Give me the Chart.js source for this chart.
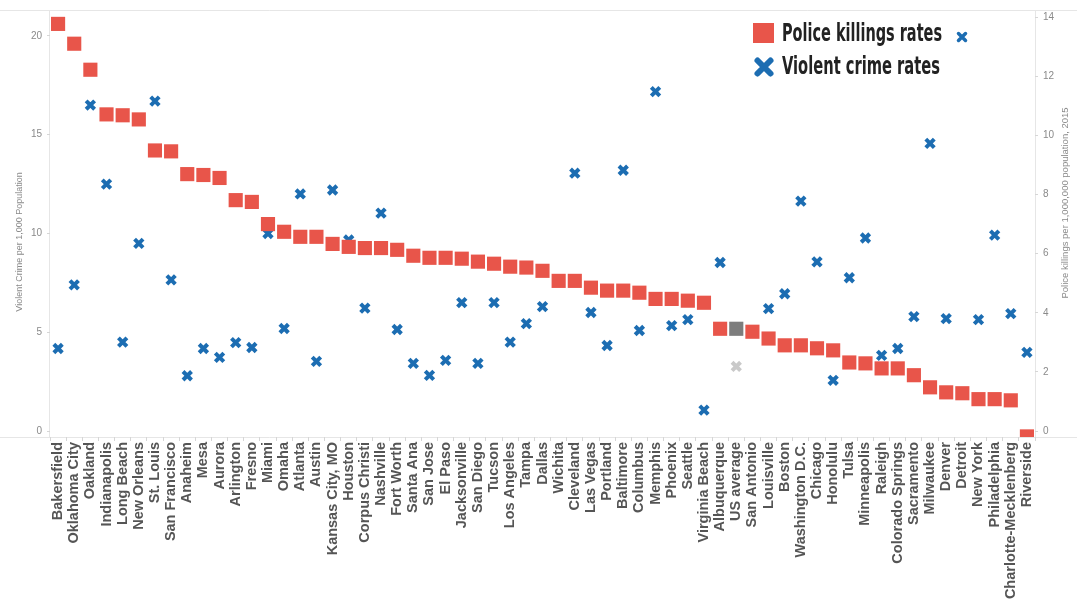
<!DOCTYPE html>
<html>
<head>
<meta charset="utf-8">
<script src="https://cdn.jsdelivr.net/npm/chart.js@4.4.1/dist/chart.umd.min.js"></script>
<style>
  html, body { margin: 0; padding: 0; background: #ffffff; }
  #wrap { width: 1077px; height: 603px; }
</style>
</head>
<body>
<div id="wrap"><canvas id="c" width="1077" height="603"></canvas></div>
<script>
const cities = ["Bakersfield","Oklahoma City","Oakland","Indianapolis","Long Beach","New Orleans","St. Louis","San Francisco","Anaheim","Mesa","Aurora","Arlington","Fresno","Miami","Omaha","Atlanta","Austin","Kansas City, MO","Houston","Corpus Christi","Nashville","Fort Worth","Santa Ana","San Jose","El Paso","Jacksonville","San Diego","Tucson","Los Angeles","Tampa","Dallas","Wichita","Cleveland","Las Vegas","Portland","Baltimore","Columbus","Memphis","Phoenix","Seattle","Virginia Beach","Albuquerque","US average","San Antonio","Louisville","Boston","Washington D.C.","Chicago","Honolulu","Tulsa","Minneapolis","Raleigh","Colorado Springs","Sacramento","Milwaukee","Denver","Detroit","New York","Philadelphia","Charlotte-Mecklenberg","Riverside"];

// Police killings per 1,000,000 population, 2015 (right axis)
const policeKillingRates = [13.77,13.1,12.22,10.71,10.68,10.54,9.49,9.46,8.69,8.66,
  8.56,7.81,7.75,7.0,6.74,6.57,6.57,6.33,6.23,6.19,
  6.19,6.13,5.93,5.86,5.86,5.83,5.73,5.66,5.56,5.53,
  5.42,5.08,5.08,4.85,4.75,4.75,4.68,4.47,4.47,4.41,
  4.34,3.46,3.46,3.36,3.13,2.9,2.9,2.8,2.73,2.32,
  2.29,2.12,2.12,1.89,1.48,1.31,1.28,1.08,1.08,1.04,-0.18];

// Violent crime per 1,000 population (left axis)
const violentCrimeRates = [4.18,7.4,16.5,12.5,4.5,9.5,16.7,7.65,2.8,4.18,
  3.73,4.48,4.23,10.0,5.19,12.0,3.53,12.2,9.67,6.22,
  11.03,5.14,3.43,2.82,3.58,6.5,3.43,6.5,4.5,5.44,
  6.3,null,13.05,6.0,4.33,13.2,5.09,17.18,5.34,5.64,
  1.06,8.53,3.27,null,6.2,6.95,11.64,8.56,2.57,7.76,
  9.77,3.83,4.18,5.79,14.56,5.69,null,5.64,9.92,5.94,3.98];

const leftTicks = [0, 5, 10, 15, 20];
const rightTicks = [0, 2, 4, 6, 8, 10, 12, 14];
const legendLabels = ["Police killings rates", "Violent crime rates"];
const leftTitle = "Violent Crime per 1,000 Population";
const rightTitle = "Police killings per 1,000,000 population, 2015";
const highlightCity = "US average";

const RED = '#e8554a', BLUE = '#1c6db2';
const redColors = cities.map(c => c === highlightCity ? '#7d7d7d' : RED);
const blueColors = cities.map(c => c === highlightCity ? '#c9c9c9' : BLUE);

const overlay = {
  id: 'overlay',
  beforeDraw(chart) {
    const ctx = chart.ctx, a = chart.chartArea;
    ctx.save();
    ctx.fillStyle = '#ffffff';
    ctx.fillRect(0, 0, chart.width, chart.height);
    ctx.strokeStyle = '#e6e6e6';
    ctx.lineWidth = 1;
    ctx.beginPath();
    ctx.moveTo(0, Math.round(a.top) + 0.5); ctx.lineTo(chart.width, Math.round(a.top) + 0.5);
    ctx.moveTo(Math.round(a.left) - 0.5, a.top); ctx.lineTo(Math.round(a.left) - 0.5, a.bottom);
    ctx.moveTo(Math.round(a.right) + 0.5, a.top); ctx.lineTo(Math.round(a.right) + 0.5, a.bottom);
    ctx.moveTo(0, Math.round(a.bottom) + 0.5); ctx.lineTo(chart.width, Math.round(a.bottom) + 0.5);
    ctx.stroke();
    ctx.restore();
  },
  afterDraw(chart) {
    const ctx = chart.ctx;
    ctx.save();
    // axis titles
    ctx.fillStyle = '#8a8a8a';
    ctx.font = '9px "Liberation Sans", Arial, sans-serif';
    ctx.textAlign = 'center';
    ctx.textBaseline = 'middle';
    ctx.save(); ctx.translate(20, 242); ctx.rotate(-Math.PI / 2); ctx.fillText(leftTitle, 0, 0); ctx.restore();
    ctx.save(); ctx.translate(1065, 203); ctx.rotate(-Math.PI / 2); ctx.font = '9.5px "Liberation Sans", Arial, sans-serif'; ctx.fillText(rightTitle, 0, 0); ctx.restore();

    // legend
    ctx.fillStyle = RED;
    ctx.fillRect(753, 23, 21, 20);
    const drawX = (cx, cy, s, w) => {
      ctx.save();
      ctx.strokeStyle = BLUE; ctx.lineWidth = w; ctx.lineCap = 'round';
      ctx.beginPath();
      ctx.moveTo(cx - s, cy - s); ctx.lineTo(cx + s, cy + s);
      ctx.moveTo(cx + s, cy - s); ctx.lineTo(cx - s, cy + s);
      ctx.stroke(); ctx.restore();
    };
    drawX(764, 67, 6.5, 6);
    drawX(962, 37, 3.5, 3.5);
    ctx.fillStyle = '#222222';
    ctx.textAlign = 'left';
    ctx.textBaseline = 'middle';
    ctx.font = 'bold 24px "Liberation Sans Narrow", "DejaVu Sans Condensed", "Liberation Sans", sans-serif';
    ctx.fillText(legendLabels[0], 782, 35, 160);
    ctx.fillText(legendLabels[1], 782, 68, 158);
    ctx.restore();
  }
};

function zeroPad(s) { s.paddingTop = 0; s.paddingBottom = 0; s.paddingLeft = 0; s.paddingRight = 0; }

new Chart(document.getElementById('c'), {
  type: 'scatter',
  data: {
    labels: cities,
    datasets: [
      {
        label: legendLabels[0],
        data: policeKillingRates,
        yAxisID: 'yRight',
        pointStyle: 'rect',
        pointRadius: 10,
        pointHoverRadius: 10,
        pointBorderWidth: 0,
        pointBackgroundColor: redColors,
        pointBorderColor: redColors,
        showLine: false,
        clip: 0,
        order: 0
      },
      {
        label: legendLabels[1],
        data: violentCrimeRates,
        yAxisID: 'yLeft',
        pointStyle: 'crossRot',
        pointRadius: 6,
        pointHoverRadius: 6,
        pointBorderWidth: 4,
        pointBorderColor: blueColors,
        pointBackgroundColor: blueColors,
        showLine: false,
        clip: 0,
        order: 1
      }
    ]
  },
  options: {
    responsive: false,
    animation: false,
    events: [],
    layout: { padding: { top: 5, left: 0, right: 0, bottom: 0 } },
    plugins: { legend: { display: false }, tooltip: { enabled: false } },
    scales: {
      x: {
        type: 'category',
        offset: true,
        border: { display: false },
        grid: { display: true, drawOnChartArea: false, offset: true, tickLength: 4, color: '#d6d6d6' },
        ticks: {
          autoSkip: false, maxRotation: 90, minRotation: 90, padding: 1,
          color: '#555555',
          font: { family: '"Liberation Sans", Arial, sans-serif', size: 14.5, weight: 'bold' }
        },
        afterFit(s) { s.height = 603 - 437; zeroPad(s); }
      },
      yLeft: {
        type: 'linear', position: 'left',
        min: -0.3, max: 21.31,
        border: { display: false },
        grid: { display: true, drawOnChartArea: false, tickLength: 3, color: '#d6d6d6' },
        ticks: {
          stepSize: 5, includeBounds: false, padding: 5,
          color: '#8a8a8a',
          font: { family: '"Liberation Sans", Arial, sans-serif', size: 10 },
          callback: (v) => leftTicks.includes(v) ? String(v) : null
        },
        afterFit(s) { s.width = 50; zeroPad(s); }
      },
      yRight: {
        type: 'linear', position: 'right',
        min: -0.2, max: 14.24,
        border: { display: false },
        grid: { display: true, drawOnChartArea: false, tickLength: 3, color: '#d6d6d6' },
        ticks: {
          stepSize: 2, includeBounds: false, padding: 5,
          color: '#8a8a8a',
          font: { family: '"Liberation Sans", Arial, sans-serif', size: 10 },
          callback: (v) => rightTicks.includes(v) ? String(v) : null
        },
        afterFit(s) { s.width = 42; zeroPad(s); }
      }
    }
  },
  plugins: [overlay]
});
</script>
</body>
</html>
